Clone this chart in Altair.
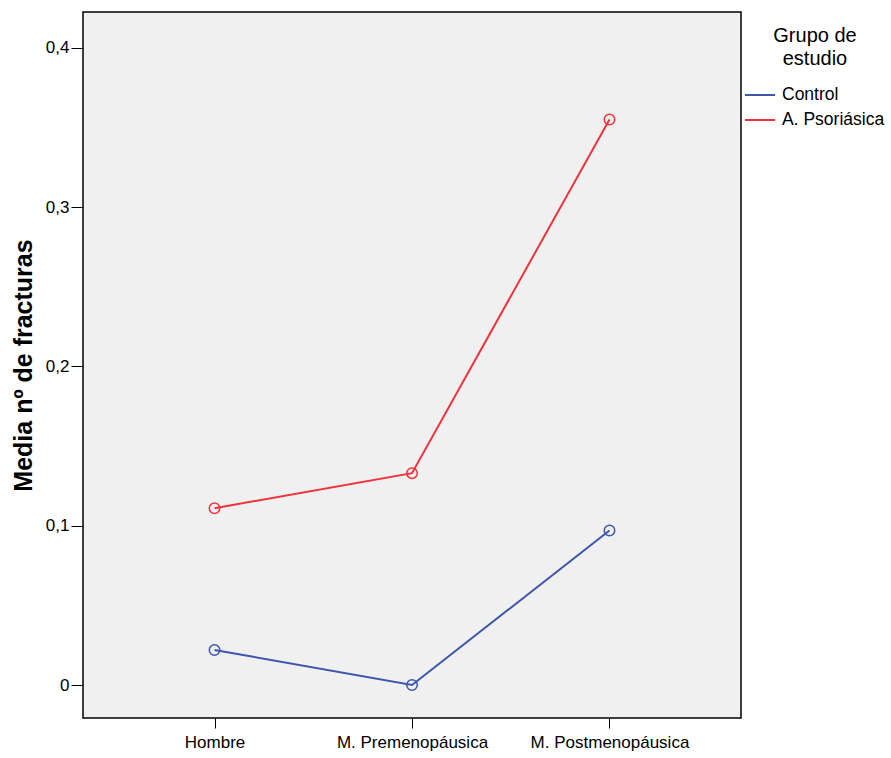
import altair as alt
import pandas as pd

categories = ["Hombre", "M. Premenopáusica", "M. Postmenopáusica"]
groups = ["Control", "A. Psoriásica"]
control_vals = [0.022, 0.0, 0.097]
psor_vals = [0.111, 0.133, 0.355]
y_ticks = [0, 0.1, 0.2, 0.3, 0.4]
colors = ["#3d56ad", "#f0323c"]
legend_title = "Grupo de\nestudio"

rows = []
for c, v in zip(categories, control_vals):
    rows.append({"cat": c, "grupo": "Control", "val": v})
for c, v in zip(categories, psor_vals):
    rows.append({"cat": c, "grupo": "A. Psoriásica", "val": v})
df = pd.DataFrame(rows)

FONT = "Liberation Sans"

x_enc = alt.X("cat:N", sort=categories,
              scale=alt.Scale(type="point", padding=0.666),
              axis=alt.Axis(title=None, labelFont=FONT, labelFontSize=17,
                            labelColor="black", tickColor="black",
                            tickSize=10, labelPadding=6, labelAngle=0, grid=False,
                            domain=False))
y_enc = alt.Y("val:Q",
              scale=alt.Scale(domain=[-0.0207, 0.4225], nice=False, zero=False),
              axis=alt.Axis(title="Media nº de fracturas", titleFont=FONT,
                            titleFontSize=25, titleFontWeight="bold", titleColor="black",
                            titlePadding=9,
                            values=y_ticks, labelFont=FONT, labelFontSize=17,
                            labelColor="black", tickColor="black", tickSize=12,
                            labelPadding=2, grid=False, domain=False,
                            labelExpr="datum.value == 0 ? '0' : replace(format(datum.value, '.1f'), '.', ',')"))
color_scale = alt.Scale(domain=groups, range=colors)

lines = alt.Chart(df).mark_line(strokeWidth=2).encode(
    x=x_enc, y=y_enc,
    color=alt.Color("grupo:N", scale=color_scale, sort=groups,
                    legend=alt.Legend(title=None, orient="none",
                                      legendX=661, legendY=67,
                                      labelFont=FONT, labelFontSize=17.5, labelColor="black",
                                      symbolType="stroke", symbolStrokeWidth=2,
                                      symbolSize=900, rowPadding=0, labelOffset=6)),
)
points = alt.Chart(df).mark_point(filled=False, size=110, strokeWidth=1.5, opacity=1).encode(
    x=x_enc, y=y_enc,
    color=alt.Color("grupo:N", scale=color_scale, legend=None),
)
title_txt = alt.Chart(pd.DataFrame({"t": [legend_title]})).mark_text(
    font=FONT, fontSize=20, color="black", align="center", baseline="middle",
    lineBreak="\n", lineHeight=23,
).encode(x=alt.value(732), y=alt.value(24), text="t:N")

chart = (lines + points + title_txt).properties(
    width=658, height=706,
    autosize=alt.AutoSizeParams(type="none"),
    padding={"left": 83, "top": 12, "right": 150, "bottom": 40},
    background="white",
).configure_view(fill="#f0f0f0", stroke="black", strokeWidth=1.5)

chart.save("out.html", embed_options={"renderer": "svg", "actions": False})
